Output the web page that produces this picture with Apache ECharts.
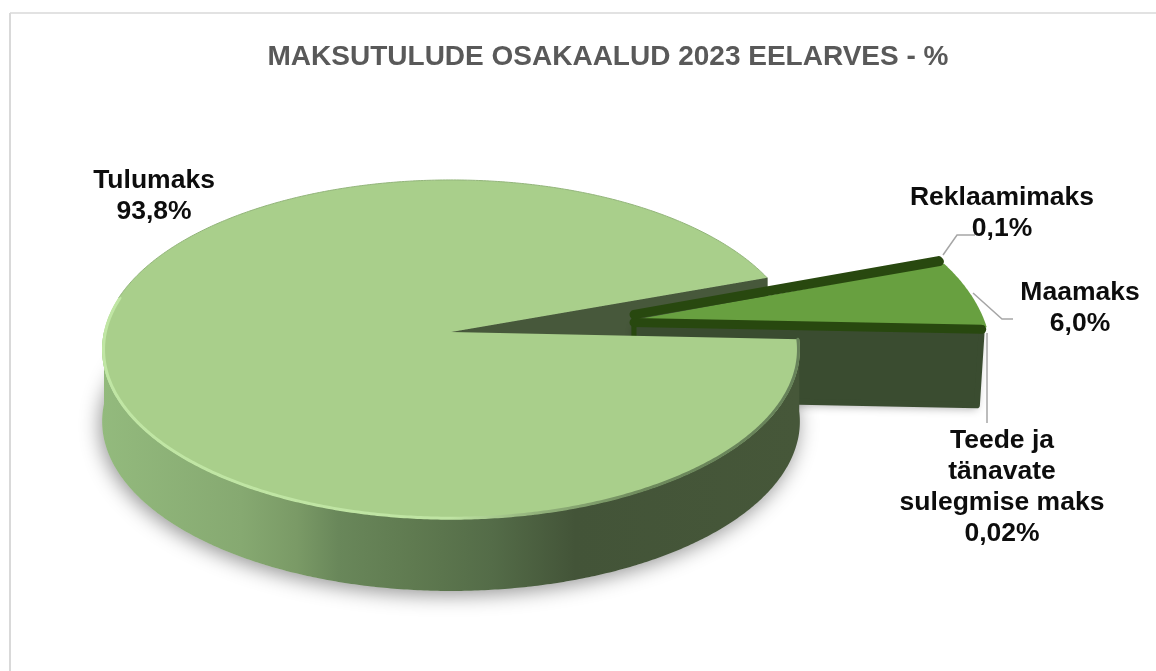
<!DOCTYPE html>
<html>
<head>
<meta charset="utf-8">
<style>html,body{margin:0;padding:0;background:#fff}#c{width:1156px;height:671px}</style>
<script src="https://cdn.jsdelivr.net/npm/echarts@6/dist/echarts.min.js"></script>
</head>
<body>
<div id="c"></div>
<script>
// Data
const titleText = 'MAKSUTULUDE OSAKAALUD 2023 EELARVES - %';
const categories = ['Tulumaks', 'Reklaamimaks', 'Maamaks', 'Teede ja\ntänavate\nsulegmise maks'];
const shares = [93.8, 0.1, 6.0, 0.02];
const shareLabels = ['93,8%', '0,1%', '6,0%', '0,02%'];

// Layout and style
const startDeg = 2.5;          // clockwise from 3 o'clock, screen-down positive
const mainView = {ox: 451, oy: 332, A: 347, B: 167.7, q: -0.103};
const sliceViews = [null,
  {ox: 634, oy: 314.5, A: 345, B: 172, q: -0.203},
  {ox: 636, oy: 319.5, A: 348, B: 181, q: -0.203},
  {ox: 634, oy: 322.5, A: 345, B: 156, q: -0.203}];
const topColors = ['#a9cf8b', '#28480f', '#68a040', '#28480f'];
const stripWidth = [0, 9, 0, 9];
const labelPos = [[154, 196], [1002, 213], [1080, 308], [1002, 487]];
const leaders = [null,
  [[943, 255], [957, 235], [975, 235]],
  [[973, 293], [1002, 319], [1013, 319]],
  [[987, 333], [987, 423]]];
const depth = 72;
const fontFamily = '"Liberation Sans", Arial, sans-serif';

const total = shares.reduce((a, b) => a + b, 0);
const rad = d => d * Math.PI / 180;
function project(v, deg, r) {
  const u = Math.cos(rad(deg)), w = Math.sin(rad(deg)), k = r === undefined ? 1 : r;
  const D = 1 + v.q * w;
  return [v.ox + k * v.A * u / D, v.oy + k * v.B * w / D];
}
function arc(v, a0, a1, r) {
  const pts = [], n = Math.max(2, Math.ceil(Math.abs(a1 - a0) * 2));
  for (let i = 0; i <= n; i++) pts.push(project(v, a0 + (a1 - a0) * i / n, r));
  return pts;
}
const down = (pts, d, lean, ox) => pts.map(p => [p[0] - (lean || 0) * (p[0] - (ox || 0)), p[1] + d]);
const LG = echarts.graphic.LinearGradient;

function sliceAngles(i) {
  let a = startDeg;
  for (let j = 0; j < i; j++) a += shares[j] / total * 360;
  return [a, a + shares[i] / total * 360];
}

function renderItem(params, api) {
  const i = params.dataIndex;
  const [a0, a1] = sliceAngles(i);
  const kids = [];
  const poly = (points, style, z2) => kids.push({type: 'polygon', z2, silent: true, shape: {points}, style});
  const line = (points, style, z2) => kids.push({type: 'polyline', z2, silent: true, shape: {points}, style: Object.assign({fill: null}, style)});

  if (i === 0) {
    const v = mainView;
    const apex = [v.ox, v.oy];
    // soft floor shadow
    poly(down(arc(v, 0, 360), depth), {
      fill: '#cfcfcf', shadowBlur: 20, shadowColor: 'rgba(0,0,0,0.42)', shadowOffsetY: 4, shadowOffsetX: -2
    }, 1);
    // inner cut wall at the far edge of the gap
    const far = project(v, a1);
    poly([apex, far, [far[0], far[1] + depth], [apex[0], apex[1] + depth]], {fill: '#47583b', stroke: '#47583b', lineWidth: 1, lineJoin: 'round'}, 2);
    // outer wall (front half)
    const front = arc(v, Math.max(a0, 0), 180);
    poly(front.concat(down(front, depth).reverse()), {
      fill: new LG(102, 0, 798, 0, [
        {offset: 0, color: '#93ba7d'}, {offset: 0.2, color: '#86a971'}, {offset: 0.28, color: '#7a9a66'},
        {offset: 0.34, color: '#69875a'}, {offset: 0.45, color: '#5f7a50'}, {offset: 0.56, color: '#546c48'},
        {offset: 0.68, color: '#435438'}, {offset: 1, color: '#465739'}], true)
    }, 20);
    // top face
    const topPts = [apex].concat(arc(v, a0, a1));
    poly(topPts, {fill: topColors[0]}, 21);
    // rim bevel: light at the front-left, dark at the right
    line(arc(v, a0, 192, 0.996), {
      lineWidth: 3, lineCap: 'round',
      stroke: new LG(102, 0, 798, 0, [
        {offset: 0, color: '#c0e6a4'}, {offset: 0.5, color: '#bfe4a3'},
        {offset: 0.62, color: '#93b37c'}, {offset: 0.78, color: '#6e8a5c'}, {offset: 1, color: '#67825a'}], true)
    }, 22);
    line(arc(v, 192, a1), {lineWidth: 1, stroke: '#93b57b'}, 22);
  } else {
    const v = sliceViews[i];
    const base = sliceViews[3];
    if (i === 3) {
      // floor shadow + front cut wall of the exploded group
      const end = project(v, a1);
      const start = [v.ox, v.oy];
      const wall = [start, end].concat(down([end], 76, 0.014, v.ox), [[start[0], start[1] + 76]]);
      poly(wall, {fill: '#cfcfcf', shadowBlur: 9, shadowColor: 'rgba(0,0,0,0.3)', shadowOffsetY: 4}, 3);
      poly(wall, {fill: '#3a4c30', stroke: '#3a4c30', lineWidth: 6, lineJoin: 'round'}, 4);
    }
    if (i === 1) {
      // inner edge of the thin slice
      line([[v.ox, v.oy - 3], [v.ox, base.oy + 14]], {stroke: topColors[1], lineWidth: 5}, 6);
    }
    const pts = [[v.ox, v.oy]].concat(arc(v, a0, a1));
    const style = {fill: topColors[i]};
    if (stripWidth[i]) { style.stroke = topColors[i]; style.lineWidth = stripWidth[i]; style.lineJoin = 'round'; }
    poly(pts, style, stripWidth[i] ? 8 : 7);
    line(leaders[i], {stroke: '#a6a6a6', lineWidth: 1.5}, 30);
  }
  kids.push({
    type: 'text', z2: 40, silent: true, x: labelPos[i][0], y: labelPos[i][1],
    style: {
      text: categories[i] + '\n' + shareLabels[i], fill: '#0d0d0d', align: 'center', verticalAlign: 'middle',
      font: 'bold 26.5px ' + fontFamily, lineHeight: 30.8
    }
  });
  return {type: 'group', children: kids};
}

const chart = echarts.init(document.getElementById('c'), null, {renderer: 'canvas'});
chart.setOption({
  animation: false,
  backgroundColor: '#ffffff',
  title: {
    text: titleText, left: 603, top: 38, textAlign: 'center',
    textStyle: {color: '#595959', fontWeight: 'bold', fontSize: 28, fontFamily}
  },
  graphic: [
    {type: 'line', silent: true, shape: {x1: 10, y1: 13, x2: 1156, y2: 13}, style: {stroke: '#d9d9d9', lineWidth: 1.5}},
    {type: 'line', silent: true, shape: {x1: 10, y1: 13, x2: 10, y2: 671}, style: {stroke: '#d9d9d9', lineWidth: 2}}
  ],
  series: [{
    type: 'custom', coordinateSystem: 'none', silent: true, clip: false,
    data: shares.map((v, i) => ({name: categories[i], value: [v]})),
    renderItem
  }]
});
</script>
</body>
</html>
